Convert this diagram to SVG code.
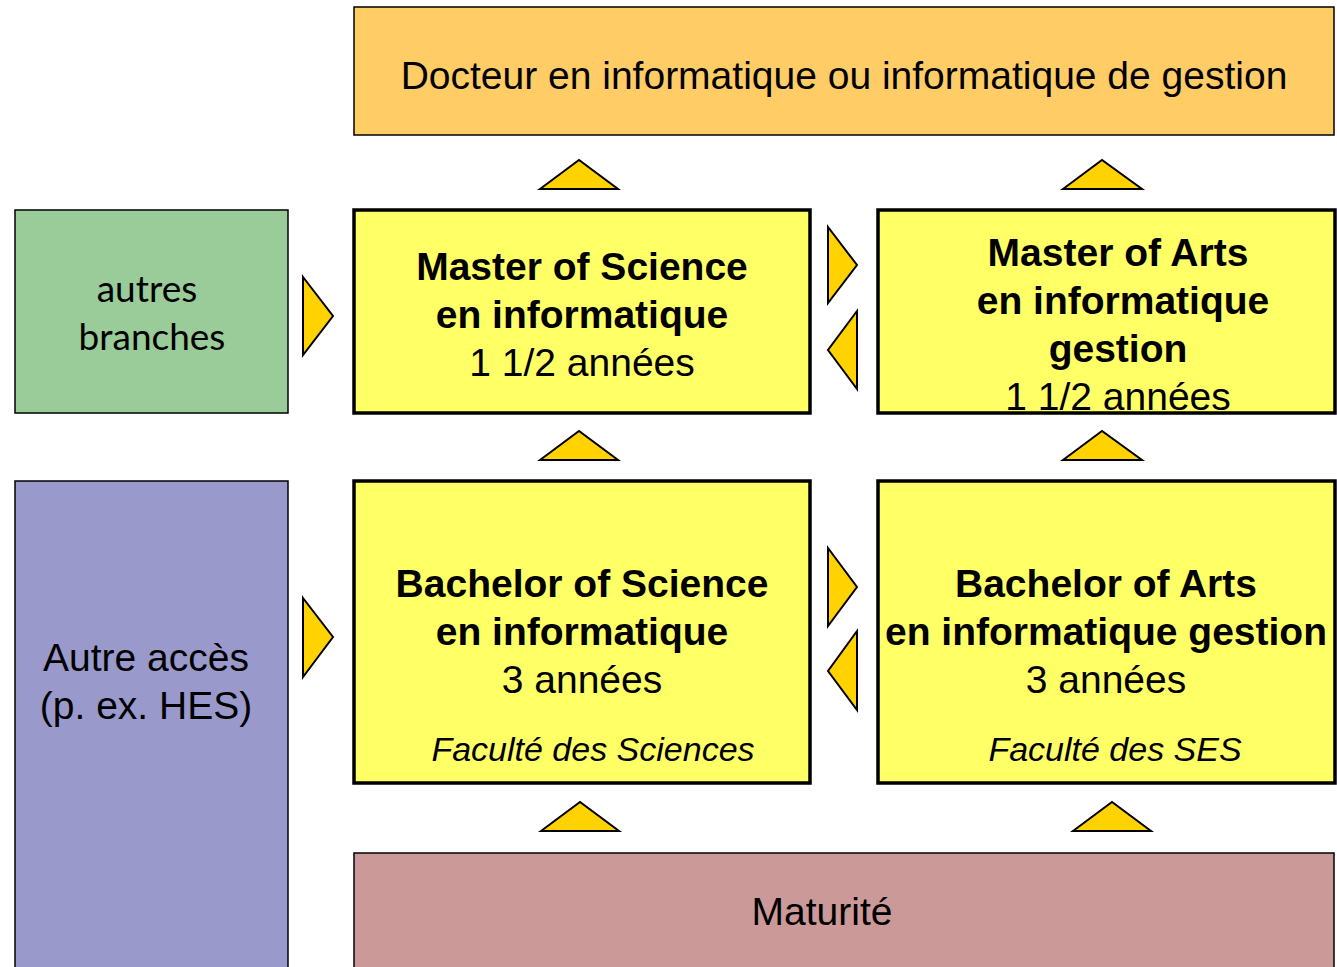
<svg xmlns="http://www.w3.org/2000/svg" width="1337" height="967" viewBox="0 0 1337 967">
<style>
.thin{stroke:#000;stroke-width:1.5}
.yb{fill:#FFFF66;stroke:#000;stroke-width:3.5}
.tri{fill:#FFD200;stroke:#000;stroke-width:2;stroke-linejoin:miter}
.t{font-family:"Liberation Sans",Arial,sans-serif;font-size:39px;fill:#000;text-anchor:middle}
.b{font-weight:bold}
.i{font-style:italic;font-size:34px}
.c{font-family:Lato,"Open Sans",sans-serif;font-size:37px;fill:#000;text-anchor:middle}
</style>
<rect width="1337" height="967" fill="#fff"/>
<g id="docteur">
<rect x="354" y="7" width="980" height="128" fill="#FFCC66" class="thin"/>
<text class="t" x="844" y="89">Docteur en informatique ou informatique de gestion</text>
</g>
<g id="autres-branches">
<rect x="15" y="210" width="273" height="203" fill="#99CC99" class="thin"/>
<text class="c" x="147" y="302">autres</text>
<text class="c" x="152" y="350">branches</text>
</g>
<g id="master-science">
<rect x="354" y="210" width="456" height="203" class="yb"/>
<text class="t b" x="582" y="280">Master of Science</text>
<text class="t b" x="582" y="328">en informatique</text>
<text class="t" x="582" y="376">1 1/2 années</text>
</g>
<g id="master-arts">
<rect x="878" y="210" width="457" height="203" class="yb"/>
<text class="t b" x="1118" y="266">Master of Arts</text>
<text class="t b" x="1123" y="314">en informatique</text>
<text class="t b" x="1118" y="362">gestion</text>
<text class="t" x="1118" y="410">1 1/2 années</text>
</g>
<g id="autre-acces">
<rect x="15" y="481" width="273" height="500" fill="#9999CC" class="thin"/>
<text class="t" x="146" y="671">Autre accès</text>
<text class="t" x="146" y="719">(p. ex. HES)</text>
</g>
<g id="bachelor-science">
<rect x="354" y="481" width="456" height="302" class="yb"/>
<text class="t b" x="582" y="597">Bachelor of Science</text>
<text class="t b" x="582" y="645">en informatique</text>
<text class="t" x="582" y="693">3 années</text>
<text class="t i" x="593" y="761">Faculté des Sciences</text>
</g>
<g id="bachelor-arts">
<rect x="878" y="481" width="457" height="302" class="yb"/>
<text class="t b" x="1106" y="597">Bachelor of Arts</text>
<text class="t b" x="1106" y="645">en informatique gestion</text>
<text class="t" x="1106" y="693">3 années</text>
<text class="t i" x="1115" y="761">Faculté des SES</text>
</g>
<g id="maturite">
<rect x="354" y="853" width="980" height="130" fill="#CC9999" class="thin"/>
<text class="t" x="822" y="925">Maturité</text>
</g>
<g id="connectors">
<polygon class="tri" points="540,189 579,160 618,189"/>
<polygon class="tri" points="1063,189 1102,160 1142,189"/>
<polygon class="tri" points="540,460 579,431 618,460"/>
<polygon class="tri" points="1063,460 1102,431 1142,460"/>
<polygon class="tri" points="541,831 580,802 619,831"/>
<polygon class="tri" points="1073,831 1112,802 1151,831"/>
<polygon class="tri" points="303,277 333,316 303,355"/>
<polygon class="tri" points="303,598 333,637 303,677"/>
<polygon class="tri" points="828,227 857,265 828,303"/>
<polygon class="tri" points="857,311 828,350 857,389"/>
<polygon class="tri" points="828,548 857,587 828,626"/>
<polygon class="tri" points="857,631 828,671 857,710"/>
</g>
</svg>
